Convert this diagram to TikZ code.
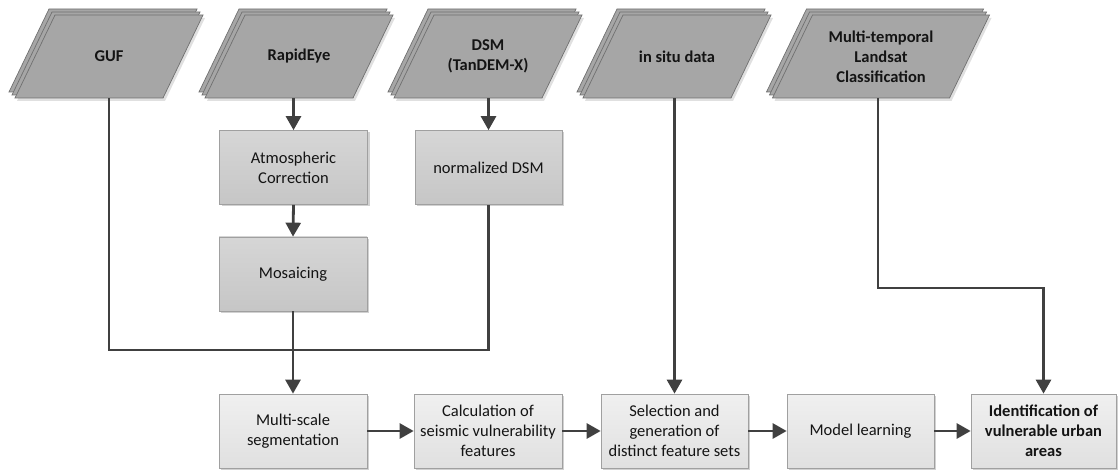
\documentclass[tikz,border=0pt]{standalone}
\usepackage{fontspec}
\setmainfont{Carlito}
\usetikzlibrary{arrows.meta,shadows,calc}
\definecolor{pgfill}{HTML}{A6A6A6}
\definecolor{pgline}{HTML}{707070}
\definecolor{conncol}{HTML}{404040}
\definecolor{txt}{HTML}{141414}
\definecolor{boxline}{HTML}{A0A0A0}
\definecolor{dtop}{HTML}{D6D6D6}
\definecolor{dbot}{HTML}{C6C6C6}
\definecolor{ltop}{HTML}{F0F0F0}
\definecolor{lbot}{HTML}{E0E0E0}

\tikzset{
  pglayer/.style={fill=pgfill, draw=pgline, line width=0.7pt},
  pgshadow/.style={fill=black!12, draw=none},
  pgtext/.style={font=\fontsize{16.5}{20}\selectfont\bfseries, text=txt, align=center,
    minimum height=83pt, inner sep=0pt},
  procbox/.style={draw=boxline, line width=0.7pt, minimum width=148pt, minimum height=74pt,
    align=center, inner sep=2pt, font=\fontsize{16.5}{20}\selectfont, text=txt,
    drop shadow={shadow xshift=2pt, shadow yshift=-2pt, fill=black!18, opacity=1}},
  darkbox/.style={procbox, top color=dtop, bottom color=dbot},
  lightbox/.style={procbox, top color=ltop, bottom color=lbot},
  conn/.style={draw=conncol, line width=2.8pt},
  arr/.style={conn, -{Triangle[width=15pt,length=14pt]}},
}

\newcommand{\pgstack}[4]{%
  \fill[pgshadow] (#1-#2+22, 18) -- (#1+#2+22,18) -- (#1+#2-18, 101) -- (#1-#2-18,101) -- cycle;
  \foreach \o in {6,3,0} {
    \filldraw[pglayer] (#1-#2+20-\o, 15-\o) -- (#1+#2+20-\o,15-\o) -- (#1+#2-20-\o, 98-\o) -- (#1-#2-20-\o,98-\o) -- cycle;
  }
  \node[pgtext] (#3) at (#1,56.5) {#4};
}

\begin{document}
\begin{tikzpicture}[x=1pt,y=-1pt]
\useasboundingbox (0,0) rectangle (1118,470);

% data inputs
\pgstack{109}{74}{guf}{GUF}
\pgstack{299}{74}{rapid}{RapidEye}
\pgstack{488}{74}{dsm}{DSM\\(TanDEM-X)}
\pgstack{677}{74}{insitu}{in situ data}
\pgstack{881}{88.5}{landsat}{Multi-temporal\\Landsat\\Classification}

% processing boxes
\node[darkbox] (atm)  at (293.5,167.5) {Atmospheric\\Correction};
\node[darkbox, minimum width=147pt] (ndsm) at (488.5,167.5) {normalized DSM};
\node[darkbox] (mos)  at (293,274) {Mosaicing};

\node[lightbox] (ms)    at (293,431)   {Multi-scale\\segmentation};
\node[lightbox] (calc)  at (488,431)   {Calculation of\\seismic vulnerability\\features};
\node[lightbox, minimum width=147pt] (sel)   at (674.5,431) {Selection and\\generation of\\distinct feature sets};
\node[lightbox, minimum width=147pt] (model) at (860.5,431) {Model learning};
\node[lightbox, minimum width=145pt, font=\fontsize{16.5}{20}\selectfont\bfseries] (ident) at (1043.5,431) {Identification of\\vulnerable urban\\areas};

% helper coordinates
\coordinate (jn) at (293,350);
\coordinate (lk) at (878,288);

% connectors
\draw[arr] (rapid.south -| atm.north) -- (atm.north);
\draw[arr] (dsm.south -| ndsm.north) -- (ndsm.north);
\draw[arr] (atm.south) -- (mos.north);
\draw[conn] (guf.south) |- (jn);
\draw[conn] (ndsm.south) |- (jn);
\draw[arr] (mos.south) -- (ms.north);
\draw[arr] (insitu.south -| sel.north) -- (sel.north);
\draw[arr] (landsat.south -| lk) -- (lk) -| (ident.north);

\draw[arr] (ms.east) -- (calc.west);
\draw[arr] (calc.east) -- (sel.west);
\draw[arr] (sel.east) -- (model.west);
\draw[arr] (model.east) -- (ident.west);
\end{tikzpicture}
\end{document}
